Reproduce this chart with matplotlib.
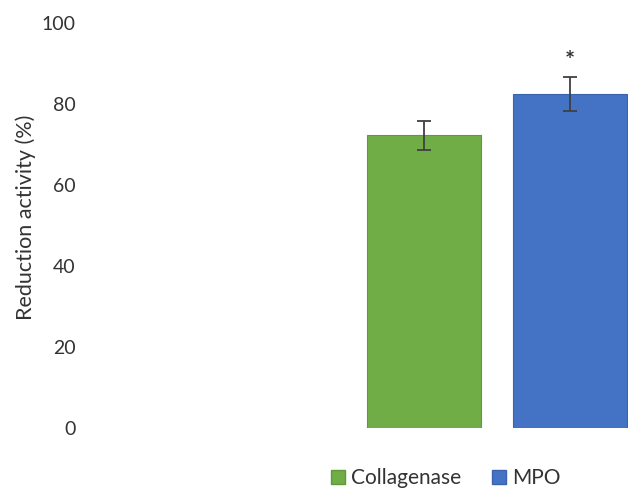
import matplotlib
matplotlib.use("Agg")
import matplotlib.pyplot as plt
from matplotlib.patches import Patch

plt.rcParams['font.family'] = ['Lato', 'DejaVu Sans']

# data
groups = ['Collagenase', 'MPO']
values = [72.3, 82.5]
errors = [3.6, 4.2]
colors = ['#70AD47', '#4472C4']
edges = ['#5E9A3A', '#3A64B0']
positions = [0.0, 1.28]
star_y = 90.5

fig = plt.figure(figsize=(6.28, 4.90), dpi=100)
ax = fig.add_axes([95 / 628, 62 / 490, 533 / 628, 405 / 490])

ax.bar(positions, values, width=1.0, color=colors, edgecolor=edges, linewidth=0.8)
ax.errorbar(positions, values, yerr=errors, fmt='none', ecolor='#404040',
            elinewidth=1.3, capsize=5, capthick=1.3)
ax.text(positions[1], star_y, '*', ha='center', va='center',
        fontsize=17, fontweight='bold', color='#333333')

ax.set_xlim(-2.886, 1.789)
ax.set_ylim(0, 100)
ax.set_yticks([0, 20, 40, 60, 80, 100])
ax.set_xticks([])
ax.tick_params(axis='y', length=0, pad=14, labelsize=14, labelcolor='#333333')
for sp in ax.spines.values():
    sp.set_visible(False)

ax.set_ylabel('Reduction activity (%)', fontsize=15.5, color='#333333')
ax.yaxis.set_label_coords(-0.11, 0.52)

handles = [Patch(facecolor=c, edgecolor=e) for c, e in zip(colors, edges)]
fig.legend(handles, groups, loc='center', bbox_to_anchor=(446 / 628, 1 - 478 / 490),
           ncol=2, frameon=False, fontsize=15, handlelength=0.65, handleheight=0.65,
           handletextpad=0.3, columnspacing=1.5, labelcolor='#333333')

fig.savefig('out.png', dpi=100)
